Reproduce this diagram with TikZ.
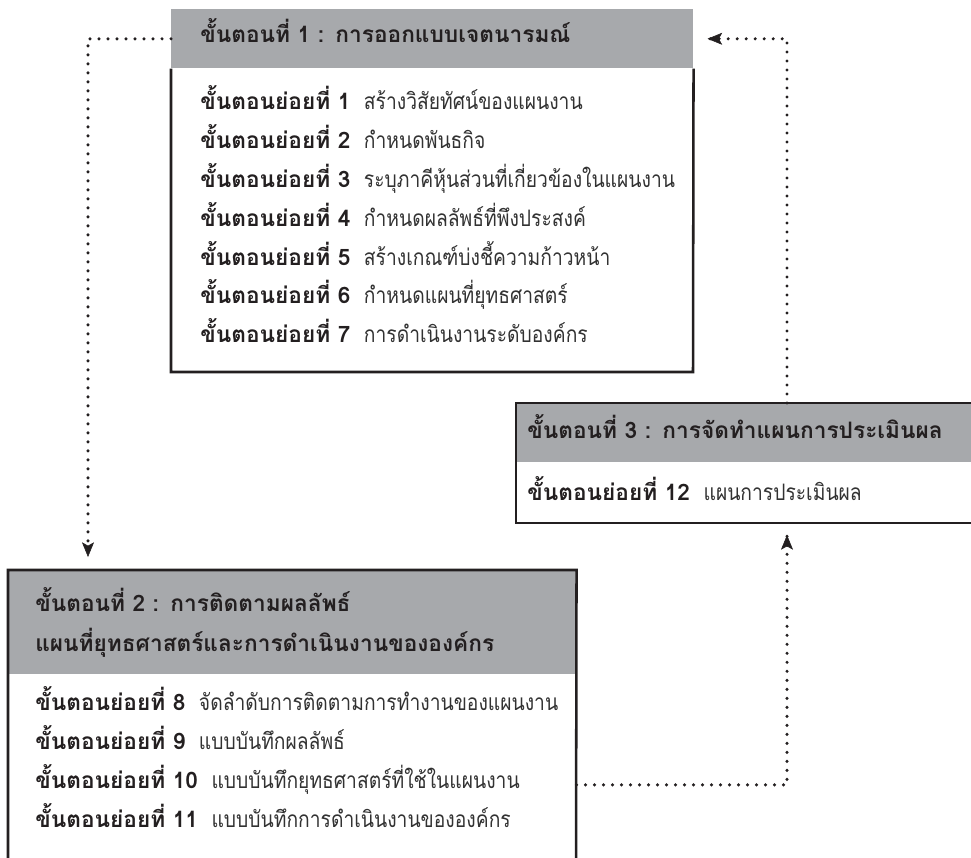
\documentclass[tikz,border=0pt]{standalone}
\usepackage{fontspec}
\setmainfont[Script=Thai]{Loma}
\newfontfamily\descfont[Script=Thai,FakeStretch=0.85]{Loma}
\usetikzlibrary{positioning,arrows.meta}

\definecolor{hdrgray}{RGB}{167,169,172}
\definecolor{linedark}{RGB}{35,31,32}
\definecolor{bodytext}{RGB}{50,50,50}

\newdimen\pxu \pxu=0.75pt
\newcommand{\substep}[2]{\mbox{{\bfseries\color{linedark}ขั้นตอนย่อยที่ #1}\hspace{0.6em}{\descfont #2}}}

\begin{document}
\begin{tikzpicture}[x=0.75pt,y=-0.75pt,
  hdr/.style={anchor=north west, fill=hdrgray, inner ysep=0pt, align=left,
    text=linedark, font=\bfseries\fontsize{17}{30}\selectfont},
  body/.style={anchor=north west, inner ysep=0pt, align=left,
    text=bodytext, font=\fontsize{17}{29.2}\selectfont},
  frame/.style={draw=linedark, line width=1.9pt},
  link/.style={draw=linedark, line width=2.6pt, line cap=round,
    dash pattern=on 0pt off 6.75pt},
  tip/.style={draw=linedark, fill=linedark, line width=0.4pt,
    -{Stealth[length=11pt,width=9pt,inset=2.5pt]}}]

  \useasboundingbox (0,0) rectangle (971,857);

  % Step 1
  \node[hdr, text width=464\pxu, inner xsep=29\pxu, text height=25pt, text depth=19.25pt] (h1) at (171,9)
    {ขั้นตอนที่ 1 : การออกแบบเจตนารมณ์};
  \node[body, text width=464\pxu, inner xsep=29\pxu, minimum height=304\pxu, yshift=5pt] (b1) at (h1.south west)
    {\substep{1}{สร้างวิสัยทัศน์ของแผนงาน}\\
     \substep{2}{กำหนดพันธกิจ}\\
     \substep{3}{ระบุภาคีหุ้นส่วนที่เกี่ยวข้องในแผนงาน}\\
     \substep{4}{กำหนดผลลัพธ์ที่พึงประสงค์}\\
     \substep{5}{สร้างเกณฑ์บ่งชี้ความก้าวหน้า}\\
     \substep{6}{กำหนดแผนที่ยุทธศาสตร์}\\
     \substep{7}{การดำเนินงานระดับองค์กร}};
  \coordinate (f1) at (693,372);
  \draw[frame] (h1.south west) |- (f1) -- (h1.south east);

  % Step 2
  \node[hdr, text width=514\pxu, inner xsep=27\pxu, minimum height=104\pxu] (h2) at (8,570)
    {ขั้นตอนที่ 2 : การติดตามผลลัพธ์\\แผนที่ยุทธศาสตร์และการดำเนินงานขององค์กร};
  \node[body, text width=514\pxu, inner xsep=27\pxu, minimum height=172\pxu, yshift=3pt] (b2) at (h2.south west)
    {\substep{8}{จัดลำดับการติดตามการทำงานของแผนงาน}\\
     \substep{9}{แบบบันทึกผลลัพธ์}\\
     \substep{10}{แบบบันทึกยุทธศาสตร์ที่ใช้ในแผนงาน}\\
     \substep{11}{แบบบันทึกการดำเนินงานขององค์กร}};
  \coordinate (f2a) at (8,880);
  \coordinate (f2b) at (576,880);
  \draw[frame] (f2a) -- (h2.north west) -- (h2.north east) -- (f2b);

  % Step 3
  \node[hdr, text width=472\pxu, inner xsep=11\pxu, text height=26.5pt, text depth=17.75pt] (h3) at (516,403)
    {ขั้นตอนที่ 3 : การจัดทำแผนการประเมินผล};
  \node[body, text width=472\pxu, inner xsep=11\pxu, minimum height=61\pxu, yshift=3.75pt] (b3) at (h3.south west)
    {\substep{12}{แผนการประเมินผล}};
  \coordinate (f3) at (1000,523);
  \draw[frame] (h3.north east) -- (h3.north west) |- (f3);

  % Dotted links
  \coordinate (t2) at (88,557);
  \coordinate (t3) at (787,535);
  \coordinate (t1) at ([xshift=10.5pt]h1.east);
  \draw[link] (h1.west) -| (t2);
  \draw[link] ([yshift=-21pt]b2.east) -| (t3);
  \draw[link] (h3.north -| t3) |- (t1);
  \draw[tip] ([yshift=4pt]t2) -- (t2);
  \draw[tip] ([yshift=-4pt]t3) -- (t3);
  \draw[tip] ([xshift=4pt]t1) -- (t1);

\end{tikzpicture}
\end{document}
